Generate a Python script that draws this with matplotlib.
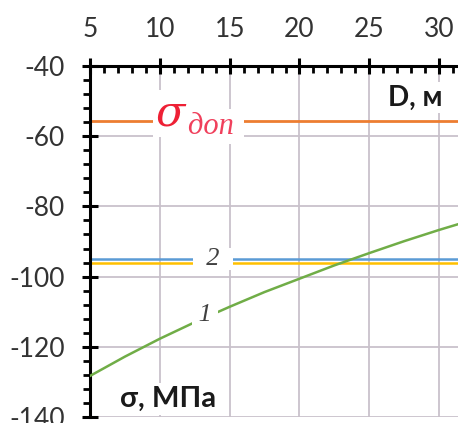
import matplotlib
matplotlib.use("Agg")
import matplotlib.pyplot as plt
from matplotlib.ticker import MultipleLocator

# diameter D, m
d_values = [5, 7.5, 10, 12.5, 15, 17.5, 20, 22.5, 25, 27.5, 30, 32]
# curve 1 - stress vs diameter, MPa
sigma_1 = [-128.3, -122.8, -117.7, -113.0, -108.6, -104.4, -100.6, -96.8, -93.3, -89.9, -86.7, -84.3]
# constant levels
sigma_2_blue = -95.1
sigma_2_yellow = -96.0
sigma_allow = -55.8

x_ticks = [5, 10, 15, 20, 25, 30]
y_ticks = [-40, -60, -80, -100, -120, -140]

plt.rcParams['axes.unicode_minus'] = False
plt.rcParams['font.family'] = ['Lato', 'DejaVu Sans']

fig = plt.figure(figsize=(4.58, 4.23), dpi=100)
ax = fig.add_axes([90 / 458, 1 - 417 / 423, 1 - 90 / 458, (417 - 66) / 423])

ax.set_xlim(5, 31.35)
ax.set_ylim(-140, -40)

grid_color = '#c9c1cb'
ax.grid(True, which='major', color=grid_color, linewidth=1.3)
ax.set_axisbelow(True)

ax.plot([d_values[0], d_values[-1]], [sigma_allow, sigma_allow], color='#ED7D31', linewidth=2.0, zorder=2)
ax.plot([d_values[0], d_values[-1]], [sigma_2_blue, sigma_2_blue], color='#5B9BD5', linewidth=1.8, zorder=2)
ax.plot([d_values[0], d_values[-1]], [sigma_2_yellow, sigma_2_yellow], color='#FFC000', linewidth=1.8, zorder=2)
ax.plot(d_values, sigma_1, color='#70AD47', linewidth=1.8, zorder=3)

# axes look
for s in ['right', 'bottom']:
    ax.spines[s].set_visible(False)
for s in ['top', 'left']:
    ax.spines[s].set_linewidth(2.2)
    ax.spines[s].set_color('black')

ax.xaxis.tick_top()
ax.set_xticks(x_ticks)
ax.set_yticks(y_ticks)
ax.xaxis.set_minor_locator(MultipleLocator(1))
ax.yaxis.set_minor_locator(MultipleLocator(4))
ax.tick_params(axis='x', which='major', direction='inout', length=12, width=2.2,
               pad=11, labelsize=19, labelcolor='#333333')
ax.tick_params(axis='x', which='minor', direction='in', length=5, width=2.0)
ax.tick_params(axis='y', which='major', direction='inout', length=12, width=2.2,
               pad=12, labelsize=19, labelcolor='#333333')
ax.tick_params(axis='y', which='minor', direction='out', length=5, width=2.0)

# labels on the plot
white = dict(facecolor='white', edgecolor='none', pad=2)
ax.text(10.75, -53.6, 'σ', family='DejaVu Serif', style='italic', fontsize=31,
        color='#ee2035', ha='center', va='center', bbox=white, zorder=5)
ax.text(12.0, -59.4, 'доп ', family='Liberation Serif', style='italic', fontsize=22,
        color='#f0405c', ha='left', va='baseline', bbox=white, zorder=5)

ax.text(13.8, -95.0, '  2  ', family='Liberation Serif', style='italic', fontsize=19,
        color='#404040', ha='center', va='center', bbox=dict(facecolor='white', edgecolor='none', pad=0), zorder=5)
ax.text(13.25, -111.0, ' 1 ', family='Liberation Serif', style='italic', fontsize=19,
        color='#404040', ha='center', va='center', bbox=dict(facecolor='white', edgecolor='none', pad=0), zorder=5)

ax.text(28.3, -49.0, 'D, м', fontsize=20, fontweight='bold', color='#1a1a1a',
        ha='center', va='center', bbox=white, zorder=5)
ax.text(10.6, -134.8, 'σ, МПа', fontsize=21, fontweight='bold', color='#1a1a1a',
        ha='center', va='center', bbox=white, zorder=5)

fig.savefig('out.png', dpi=100)
